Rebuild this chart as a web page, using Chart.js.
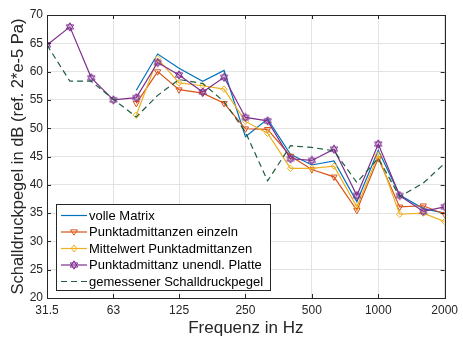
<!DOCTYPE html>
<html>
<head>
<meta charset="utf-8">
<script src="https://cdn.jsdelivr.net/npm/chart.js@4"></script>
<style>
    html, body { margin: 0; padding: 0; background: #fff; }
</style>
</head>
<body>
<canvas id="myChart" width="463" height="340"></canvas>
<script>
// terzband frequencies (Hz)
const freqs = [31.5, 40, 50, 63, 80, 100, 125, 160, 200, 250, 315, 400, 500, 630, 800, 1000, 1250, 1600, 2000];

const volle_matrix = [null, null, null, null, 56.7, 63.1, 60.6, 58.3, 60.2, 48.5, 51.6, 45.4, 43.5, 44.2, 37.0, 46.1, 38.2, 35.8, 35.0];
const punkt_einzeln = [null, null, null, null, 54.4, 60.0, 56.8, 56.2, 54.4, 49.9, 49.8, 45.1, 42.7, 41.4, 35.5, 44.7, 36.1, 36.3, 34.8];
const punkt_mittel = [null, null, null, null, 52.3, 62.3, 58.0, 57.5, 56.9, 51.2, 49.1, 42.9, 42.9, 43.3, 36.1, 45.3, 34.8, 35.0, 33.5];
const punkt_platte = [64.7, 67.9, 58.9, 55.0, 55.4, 61.6, 59.4, 56.4, 59.0, 51.9, 51.3, 44.6, 44.3, 46.3, 38.1, 47.2, 38.1, 35.3, 36.1];
const gemessen = [64.7, 58.3, 58.3, 55.1, 52.0, 55.8, 58.6, 57.9, 54.7, 49.3, 40.7, 46.9, 46.6, 46.0, 40.4, 44.7, 37.9, 40.3, 43.8];

const series_labels = [
    'volle Matrix',
    'Punktadmittanzen einzeln',
    'Mittelwert Punktadmittanzen',
    'Punktadmittanz unendl. Platte',
    'gemessener Schalldruckpegel'
];

const x_tick_values = [31.5, 63, 125, 250, 500, 1000, 2000];
const x_tick_labels = ['31.5', '63', '125', '250', '500', '1000', '2000'];
const y_tick_values = [20, 25, 30, 35, 40, 45, 50, 55, 60, 65, 70];

const FONT = "'Liberation Sans', Arial, sans-serif";
const AXIS_COLOR = '#262626';
const TEXT_COLOR = '#262626';

const colors = ['#0072BD', '#D95319', '#EDB120', '#7E2F8E', '#1d5e3e'];

function to_points(values) {
    return freqs.map((f, i) => ({ x: f, y: values[i] }));
}

// hexagram marker
function make_hexagram(color) {
    const c = document.createElement('canvas');
    c.width = 10;
    c.height = 10;
    const g = c.getContext('2d');
    g.strokeStyle = color;
    g.lineWidth = 1;
    const cx = 5, cy = 5, r = 4.2;
    for (let k = 0; k < 2; k++) {
        g.beginPath();
        for (let j = 0; j < 3; j++) {
            const a = -Math.PI / 2 + k * Math.PI + j * 2 * Math.PI / 3;
            const px = cx + r * Math.cos(a);
            const py = cy + r * Math.sin(a);
            if (j === 0) g.moveTo(px, py); else g.lineTo(px, py);
        }
        g.closePath();
        g.stroke();
    }
    return c;
}
const hexagram = make_hexagram(colors[3]);

const box_plugin = {
    id: 'box_plugin',
    afterDatasetsDraw(chart) {
        const ctx = chart.ctx;
        const a = chart.chartArea;
        const xs = chart.scales.x;
        const ys = chart.scales.y;
        ctx.save();
        ctx.strokeStyle = AXIS_COLOR;
        ctx.lineWidth = 1;
        ctx.strokeRect(Math.round(a.left) + 0.5, Math.round(a.top) + 0.5, Math.round(a.right - a.left), Math.round(a.bottom - a.top));
        ctx.beginPath();
        const len = 4;
        x_tick_values.forEach(v => {
            const px = Math.round(xs.getPixelForValue(v)) + 0.5;
            ctx.moveTo(px, a.bottom); ctx.lineTo(px, a.bottom - len);
            ctx.moveTo(px, a.top); ctx.lineTo(px, a.top + len);
        });
        y_tick_values.forEach(v => {
            const py = Math.round(ys.getPixelForValue(v)) + 0.5;
            ctx.moveTo(a.left, py); ctx.lineTo(a.left + len, py);
            ctx.moveTo(a.right, py); ctx.lineTo(a.right - len, py);
        });
        ctx.stroke();
        ctx.restore();
    }
};

function draw_marker(ctx, i, x, y) {
    ctx.save();
    ctx.strokeStyle = colors[i];
    ctx.lineWidth = 1;
    if (i === 1) {
        const r = 3.5;
        ctx.beginPath();
        ctx.moveTo(x - r, y - r * 0.6);
        ctx.lineTo(x + r, y - r * 0.6);
        ctx.lineTo(x, y + r * 0.9);
        ctx.closePath();
        ctx.stroke();
    } else if (i === 2) {
        ctx.beginPath();
        ctx.moveTo(x, y - 3.5);
        ctx.lineTo(x + 2.8, y);
        ctx.lineTo(x, y + 3.5);
        ctx.lineTo(x - 2.8, y);
        ctx.closePath();
        ctx.stroke();
    } else if (i === 3) {
        ctx.drawImage(hexagram, x - 5, y - 5);
    }
    ctx.restore();
}

const legend_plugin = {
    id: 'legend_plugin',
    afterDraw(chart) {
        const ctx = chart.ctx;
        const bx = 56, by = 204, bw = 214, bh = 86;
        ctx.save();
        ctx.fillStyle = '#ffffff';
        ctx.fillRect(bx, by, bw, bh);
        ctx.strokeStyle = AXIS_COLOR;
        ctx.lineWidth = 1;
        ctx.strokeRect(bx + 0.5, by + 0.5, bw, bh);
        ctx.font = '13px ' + FONT;
        ctx.textBaseline = 'middle';
        series_labels.forEach((label, i) => {
            const y = by + 11.5 + i * 16.5;
            ctx.strokeStyle = colors[i];
            ctx.lineWidth = 1.2;
            ctx.setLineDash(i === 4 ? [6, 4] : []);
            ctx.beginPath();
            ctx.moveTo(61, y);
            ctx.lineTo(87, y);
            ctx.stroke();
            ctx.setLineDash([]);
            draw_marker(ctx, i, 74, y);
            ctx.fillStyle = '#000000';
            ctx.fillText(label, 89, y + 0.5);
        });
        ctx.restore();
    }
};

window.onload = () => {
    const ctx = document.getElementById('myChart').getContext('2d');
    const base = { borderWidth: 1.2, tension: 0, spanGaps: false, fill: false };
    window.myChart = new Chart(ctx, {
        type: 'line',
        data: {
            datasets: [
                Object.assign({}, base, {
                    label: series_labels[0], data: to_points(volle_matrix),
                    borderColor: colors[0], pointRadius: 0, order: 5
                }),
                Object.assign({}, base, {
                    label: series_labels[1], data: to_points(punkt_einzeln),
                    borderColor: colors[1], pointStyle: 'triangle', pointRotation: 180,
                    pointRadius: 3.6, pointBorderColor: colors[1], pointBackgroundColor: 'rgba(0,0,0,0)',
                    pointBorderWidth: 1, order: 4
                }),
                Object.assign({}, base, {
                    label: series_labels[2], data: to_points(punkt_mittel),
                    borderColor: colors[2], pointStyle: 'rectRot',
                    pointRadius: 3.2, pointBorderColor: colors[2], pointBackgroundColor: 'rgba(0,0,0,0)',
                    pointBorderWidth: 1, order: 3
                }),
                Object.assign({}, base, {
                    label: series_labels[3], data: to_points(punkt_platte),
                    borderColor: colors[3], pointStyle: hexagram, pointRadius: 4, order: 2
                }),
                Object.assign({}, base, {
                    label: series_labels[4], data: to_points(gemessen),
                    borderColor: colors[4], borderDash: [6, 4], pointRadius: 0, order: 1
                })
            ]
        },
        options: {
            responsive: false,
            animation: false,
            devicePixelRatio: 1,
            layout: { padding: { left: 0, top: 15, right: 16, bottom: 0 } },
            plugins: {
                legend: { display: false },
                tooltip: { enabled: false }
            },
            scales: {
                x: {
                    type: 'logarithmic',
                    min: 31.5,
                    max: 2000,
                    afterBuildTicks: (scale) => {
                        scale.ticks = x_tick_values.map(v => ({ value: v }));
                    },
                    afterFit: (scale) => { scale.height = 42; },
                    ticks: {
                        autoSkip: false,
                        maxRotation: 0,
                        padding: 5,
                        color: TEXT_COLOR,
                        font: { family: FONT, size: 12 },
                        callback: (val, i) => x_tick_labels[i]
                    },
                    grid: { color: '#e3e3e3', drawTicks: false },
                    border: { display: false },
                    title: {
                        display: true,
                        text: 'Frequenz in Hz',
                        color: TEXT_COLOR,
                        font: { family: FONT, size: 17 },
                        padding: { top: 0, bottom: 1 }
                    }
                },
                y: {
                    min: 20,
                    max: 70,
                    afterBuildTicks: (scale) => {
                        scale.ticks = y_tick_values.map(v => ({ value: v }));
                    },
                    afterFit: (scale) => { scale.width = 47; },
                    ticks: {
                        padding: 4,
                        color: TEXT_COLOR,
                        font: { family: FONT, size: 12 }
                    },
                    grid: { color: '#e3e3e3', drawTicks: false },
                    border: { display: false },
                    title: {
                        display: true,
                        text: 'Schalldruckpegel in dB (ref. 2*e-5 Pa)',
                        color: TEXT_COLOR,
                        font: { family: FONT, size: 16.5 },
                        padding: { top: 9, bottom: 0 }
                    }
                }
            }
        },
        plugins: [box_plugin, legend_plugin]
    });
};
</script>
</body>
</html>
